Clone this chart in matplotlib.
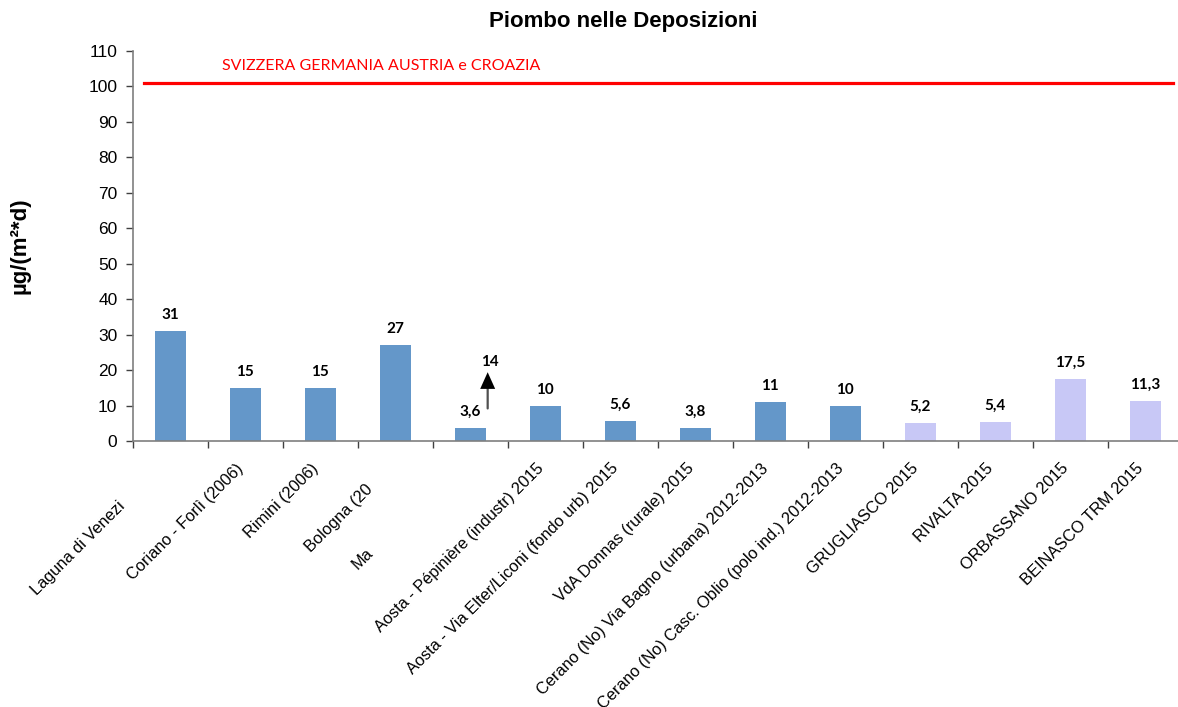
import matplotlib
matplotlib.use("Agg")
import matplotlib.pyplot as plt
import matplotlib.transforms as mtransforms
from matplotlib.patches import FancyArrowPatch
import numpy as np

# Site labels (as printed under the axis) and lead deposition values
sites = [
    "Laguna di Venezi",
    "Coriano - Forlì (2006)",
    "Rimini (2006)",
    "Bologna (20",
    "Ma",
    "Aosta - Pépinière (industr) 2015",
    "Aosta - Via Elter/Liconi (fondo urb) 2015",
    "VdA Donnas (rurale) 2015",
    "Cerano (No) Via Bagno (urbana) 2012-2013",
    "Cerano (No) Casc. Oblio (polo ind.) 2012-2013",
    "GRUGLIASCO 2015",
    "RIVALTA 2015",
    "ORBASSANO 2015",
    "BEINASCO TRM 2015",
]
values = [31, 15, 15, 27, 3.6, 10, 5.6, 3.8, 11, 10, 5.2, 5.4, 17.5, 11.3]
value_labels = ["31", "15", "15", "27", "3,6", "10", "5,6", "3,8", "11", "10",
                "5,2", "5,4", "17,5", "11,3"]
local_sites = [False] * 10 + [True] * 4

# Second value reported for the Pépinière site (shown with an arrow)
peak_index = 4
peak_label = "14"

limit_value = 101
limit_text = "SVIZZERA GERMANIA AUSTRIA e CROAZIA"

blue = "#6497C9"
lilac = "#C8C8F6"

W, H = 1178, 707
fig = plt.figure(figsize=(W / 100, H / 100), dpi=100)
left_px, right_px, bottom_px, top_px = 132.7, 1178, 441, 50.7
ax = fig.add_axes([left_px / W, (H - bottom_px) / H,
                   (right_px - left_px) / W, (bottom_px - top_px) / H])

n = len(values)
x = np.arange(n)
colors = [lilac if loc else blue for loc in local_sites]
ax.bar(x, values, width=0.41, color=colors, zorder=2)

ax.set_xlim(-0.5, -0.5 + (right_px - left_px) / 75.0)
ax.set_ylim(0, 110)
ax.set_yticks(np.arange(0, 111, 10))
ax.set_xticks(np.arange(-0.5, n - 0.5, 1))
ax.set_xticklabels([])

for side in ("top", "right"):
    ax.spines[side].set_visible(False)
for side in ("left", "bottom"):
    ax.spines[side].set_color("#7f7f7f")
    ax.spines[side].set_linewidth(1.2)
ax.tick_params(axis="y", direction="out", length=5, width=1, color="#404040",
               labelsize=12.5, pad=6)
ax.tick_params(axis="x", direction="out", length=5, width=1, color="#404040")
for t in ax.get_yticklabels():
    t.set_fontfamily("Liberation Sans")

# Value labels above bars
for i, (v, lab) in enumerate(zip(values, value_labels)):
    ax.annotate(lab, xy=(i, v), xytext=(0, 16), textcoords="offset pixels",
                ha="center", va="center", fontsize=11, fontweight="bold",
                fontfamily="Lato", color="black")

# Arrow and label for the higher reported value
arrow_x = peak_index + 0.233
v_peak = values[peak_index]
tail_tr = mtransforms.offset_copy(ax.transData, fig=fig, x=0, y=17, units="dots")
head_tr = mtransforms.offset_copy(ax.transData, fig=fig, x=0, y=56, units="dots")
tail_disp = tail_tr.transform((arrow_x, v_peak))
head_disp = head_tr.transform((arrow_x, v_peak))
ax.add_patch(FancyArrowPatch(tail_disp, (head_disp[0], head_disp[1] - 10),
                             transform=None, arrowstyle="-",
                             color="#505050", linewidth=1.6, zorder=3))
ax.add_patch(FancyArrowPatch((head_disp[0], head_disp[1] - 13), head_disp,
                             transform=None,
                             arrowstyle="-|>,head_length=1.0,head_width=0.45",
                             mutation_scale=12, color="black",
                             linewidth=0, shrinkA=0, shrinkB=0, zorder=4))
ax.annotate(peak_label, xy=(peak_index + 0.264, v_peak),
            xytext=(0, 66), textcoords="offset pixels",
            ha="center", va="center", fontsize=11, fontweight="bold",
            fontfamily="Lato", color="black")

# Reference limit line
x0 = (143.5 - left_px) / (right_px - left_px)
x1 = (1172.7 - left_px) / (right_px - left_px)
ax.axhline(limit_value, xmin=x0, xmax=x1, color="#FF0000", linewidth=2.3,
           zorder=3)
blend = mtransforms.blended_transform_factory(ax.transAxes, ax.transData)
ax.text((381.5 - left_px) / (right_px - left_px), 105.8, limit_text,
        transform=blend, ha="center", va="center", fontsize=11.5,
        fontfamily="Lato", fontweight="normal", color="#FF0000")

# Category labels, rotated, ending under each bar
shifts = {0: (-44, 38), 3: (-21, 21), 4: (-96, 85)}
for i, name in enumerate(sites):
    sx, sy = shifts.get(i, (0, 0))
    ax.annotate(name, xy=(i, 0), xytext=(-4 + sx, -25 - sy),
                textcoords="offset pixels", rotation=45,
                rotation_mode="anchor", ha="right", va="center",
                fontsize=11.8, fontfamily="Liberation Sans", color="black",
                annotation_clip=False)

fig.text(623 / W, 1 - 22 / H, "Piombo nelle Deposizioni", ha="center",
         va="center", fontsize=16, fontweight="bold",
         fontfamily="Liberation Sans")
fig.text(20 / W, 1 - 246 / H, "µg/(m²*d)", ha="center", va="center",
         rotation=90, fontsize=16, fontweight="bold",
         fontfamily="Liberation Sans")

fig.savefig("out.png", dpi=100)
